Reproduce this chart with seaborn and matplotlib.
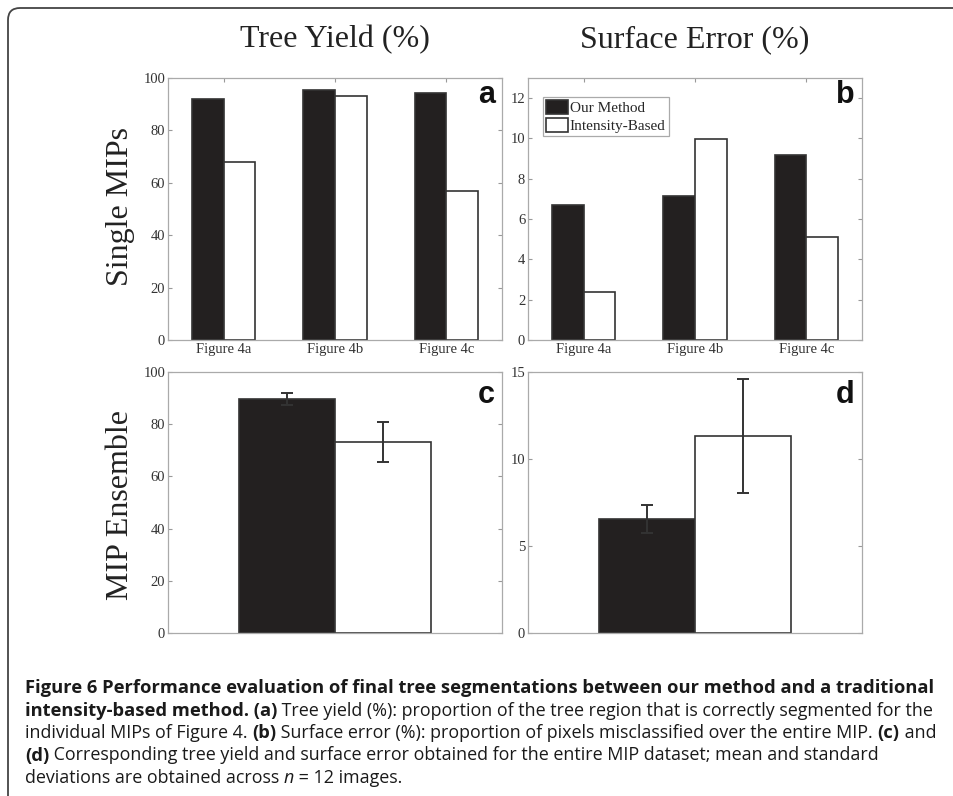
import numpy as np
import pandas as pd
import seaborn as sns
import matplotlib.pyplot as plt
from matplotlib.patches import FancyBboxPatch
from matplotlib.transforms import IdentityTransform

sns.set_style('ticks')
plt.rcParams['font.family'] = ['Liberation Serif', 'DejaVu Serif']

# --- data ---
categories = ['Figure 4a', 'Figure 4b', 'Figure 4c']
methods = ['Our Method', 'Intensity-Based']

yield_ours = [92.1, 95.4, 94.1]
yield_intensity = [67.9, 93.1, 56.9]
error_ours = [6.69, 7.15, 9.16]
error_intensity = [2.37, 9.96, 5.09]

ens_yield_mean = [89.6, 73.2]
ens_yield_sd = [2.3, 7.7]
ens_error_mean = [6.55, 11.31]
ens_error_sd = [0.78, 3.28]

palette = {'Our Method': '#231f20', 'Intensity-Based': 'white'}

W, H = 954, 796
fig = plt.figure(figsize=(W / 100, H / 100), dpi=100)


def px_axes(left, top, right, bottom):
    return fig.add_axes([left / W, 1 - bottom / H, (right - left) / W, (bottom - top) / H])


def style_axes(ax):
    for s in ax.spines.values():
        s.set_color('#aaaaaa')
        s.set_linewidth(0.9)
    ax.tick_params(direction='in', length=3, color='#999999', width=0.8,
                   top=True, right=True, labelcolor='#333333', labelsize=10.5, pad=2)
    ax.set_xlabel('')
    ax.set_ylabel('')


def panel_letter(ax, letter, top, bottom):
    ax.text(1 - 7 / 334, 1 - (bottom - top) / (ax.bbox.height), letter,
            transform=ax.transAxes, ha='right', va='baseline',
            fontsize=22, fontweight='bold', family='Liberation Sans', color='#111111')


def single_panel(ax, ours, other, ylim, yticks):
    df = pd.DataFrame({'cat': categories * 2,
                       'method': [methods[0]] * 3 + [methods[1]] * 3,
                       'value': list(ours) + list(other)})
    sns.barplot(data=df, x='cat', y='value', hue='method', hue_order=methods,
                palette=palette, width=0.57, gap=0, edgecolor='#333333',
                linewidth=1.2, errorbar=None, ax=ax, legend=True)
    ax.set_xlim(-0.5, 2.5)
    ax.set_ylim(*ylim)
    ax.set_yticks(yticks)
    style_axes(ax)


def ensemble_panel(ax, mean, sd, ylim, yticks):
    df = pd.DataFrame({'cat': ['all', 'all'], 'method': methods, 'value': mean})
    sns.barplot(data=df, x='cat', y='value', hue='method', hue_order=methods,
                palette=palette, width=0.575, gap=0, edgecolor='#333333',
                linewidth=1.2, errorbar=None, ax=ax, legend=False)
    xs = [p.get_x() + p.get_width() / 2 for p in ax.patches[:2]]
    ax.errorbar(xs, mean, yerr=sd, fmt='none', ecolor='#333333',
                elinewidth=1.4, capsize=4, capthick=1.4, zorder=5)
    ax.set_xlim(-0.5, 0.5)
    ax.set_ylim(*ylim)
    ax.set_yticks(yticks)
    ax.set_xticks([])
    style_axes(ax)


ax_a = px_axes(168, 78, 502, 340)
ax_b = px_axes(528, 78, 862, 340)
ax_c = px_axes(168, 372, 502, 633)
ax_d = px_axes(528, 372, 862, 633)

single_panel(ax_a, yield_ours, yield_intensity, (0, 100), range(0, 101, 20))
ax_a.get_legend().remove()
single_panel(ax_b, error_ours, error_intensity, (0, 13), range(0, 13, 2))
ax_b.legend(loc='upper left', bbox_to_anchor=(15 / 334, 1 - 19 / 262),
            fancybox=False, edgecolor='#aaaaaa', framealpha=1, fontsize=11,
            borderpad=0.2, handlelength=1.45, handleheight=1.0,
            handletextpad=0.1, labelspacing=0.2, borderaxespad=0)
ax_b.get_legend().get_frame().set_linewidth(0.9)

ensemble_panel(ax_c, ens_yield_mean, ens_yield_sd, (0, 100), range(0, 101, 20))
ensemble_panel(ax_d, ens_error_mean, ens_error_sd, (0, 15), range(0, 16, 5))

for ax, letter, top, base in [(ax_a, 'a', 78, 103), (ax_b, 'b', 78, 103),
                              (ax_c, 'c', 372, 403), (ax_d, 'd', 372, 403)]:
    panel_letter(ax, letter, top, base)

# column titles and row labels
fig.text(335 / W, 1 - 40 / H, 'Tree Yield (%)', ha='center', va='center',
         fontsize=23, color='#222222')
fig.text(695 / W, 1 - 40 / H, 'Surface Error (%)', ha='center', va='center',
         fontsize=23, color='#222222')
fig.text(121 / W, 1 - 207 / H, 'Single MIPs', rotation=90, ha='center', va='center',
         fontsize=23, color='#222222')
fig.text(121 / W, 1 - 505 / H, 'MIP Ensemble', rotation=90, ha='center', va='center',
         fontsize=23, color='#222222')

# page frame
fig.add_artist(FancyBboxPatch((8, -60), 1100, H - 8 + 60,
                              boxstyle='round,pad=0,rounding_size=12',
                              transform=IdentityTransform(), facecolor='none',
                              edgecolor='#444444', linewidth=1.3))

# caption with mixed bold / regular runs
cap_ax = fig.add_axes([0, 0, 1, 1])
cap_ax.axis('off')
caption = [
    [('Figure 6 Performance evaluation of final tree segmentations between our method and a traditional', 'bold', 'normal')],
    [('intensity-based method. (a)', 'bold', 'normal'),
     (' Tree yield (%): proportion of the tree region that is correctly segmented for the', 'normal', 'normal')],
    [('individual MIPs of Figure 4. ', 'normal', 'normal'), ('(b)', 'bold', 'normal'),
     (' Surface error (%): proportion of pixels misclassified over the entire MIP. ', 'normal', 'normal'),
     ('(c)', 'bold', 'normal'), (' and', 'normal', 'normal')],
    [('(d)', 'bold', 'normal'),
     (' Corresponding tree yield and surface error obtained for the entire MIP dataset; mean and standard', 'normal', 'normal')],
    [('deviations are obtained across ', 'normal', 'normal'), ('n', 'normal', 'italic'),
     (' = 12 images.', 'normal', 'normal')],
]
cap_font = ['Open Sans', 'DejaVu Sans']
for i, line in enumerate(caption):
    y = 1 - (693 + i * 22.5) / H
    prev = None
    for text, weight, style in line:
        size = 13.2 if weight == 'bold' else 12.9
        kw = dict(fontsize=size, fontweight=weight, fontstyle=style,
                  family=cap_font, color='#1a1a1a', va='baseline', ha='left')
        if prev is None:
            prev = cap_ax.text(25 / W, y, text, transform=fig.transFigure, **kw)
        else:
            prev = cap_ax.annotate(text, xy=(1, 0), xycoords=prev,
                                   annotation_clip=False, **{**kw, 'va': 'bottom'})

fig.savefig('out.png', dpi=100)
